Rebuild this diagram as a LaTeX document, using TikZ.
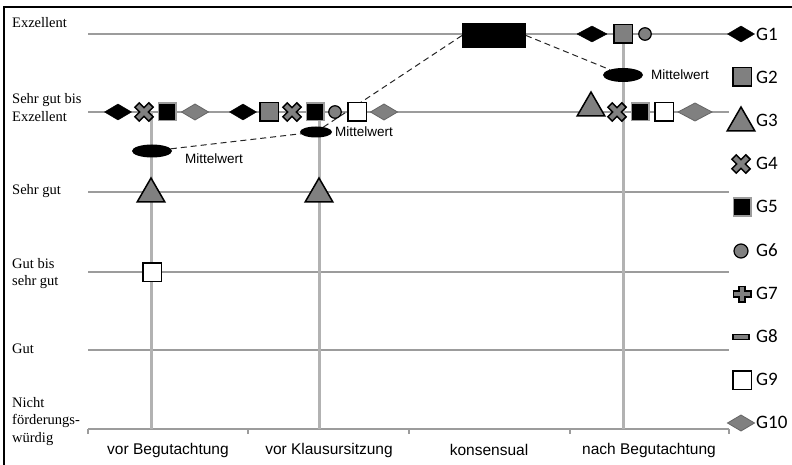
\documentclass[tikz,border=0pt]{standalone}
\usepackage{fontspec}
\setmainfont{Liberation Serif}
\setsansfont{Liberation Sans}
\newfontfamily\legfont{Carlito}
\newfontfamily\scalefont{Liberation Serif}
\usepackage{xcolor}
\usepackage{tikz}
\usetikzlibrary{shapes.geometric,positioning}

\definecolor{symgray}{HTML}{808080}
\definecolor{gridgray}{HTML}{9C9C9C}
\definecolor{stemgray}{HTML}{B2B2B2}

\tikzset{
  sym/.style={inner sep=0pt, outer sep=0pt},
  bdia/.style={sym, diamond, fill=black, draw=black, minimum width=27pt, minimum height=16pt},
  gdia/.style={sym, diamond, fill=symgray, draw=black!60, line width=0.8pt, minimum width=27pt, minimum height=16pt},
  gsq/.style={sym, rectangle, fill=symgray, draw=black, line width=1.5pt, minimum size=18.5pt},
  bsq/.style={sym, rectangle, fill=black, draw=gridgray, line width=1.5pt, minimum size=17.5pt},
  wsq/.style={sym, rectangle, fill=white, draw=black, line width=1.5pt, minimum size=18.5pt},
  gcirc/.style={sym, circle, fill=symgray, draw=black, line width=1.2pt, minimum size=12.5pt},
  gtri/.style={sym, regular polygon, regular polygon sides=3, fill=symgray, draw=black, line width=1.5pt, minimum size=32pt},
  gminus/.style={sym, rectangle, fill=symgray, draw=black, line width=1.2pt, minimum width=16pt, minimum height=5pt},
  mean/.style={sym, ellipse, fill=black, minimum width=40pt, minimum height=13pt},
  kbox/.style={sym, rectangle, fill=black, minimum width=64pt, minimum height=25pt},
  meanlabel/.style={font=\sffamily\fontsize{13.5}{15}\selectfont, inner sep=0pt},
  scalelabel/.style={font=\scalefont\fontsize{14.5}{17.5}\selectfont, anchor=base west, inner sep=0pt},
  catlabel/.style={font=\sffamily\fontsize{15.5}{18}\selectfont, inner sep=0pt},
  leglabel/.style={font=\legfont\fontsize{19}{22}\selectfont, anchor=west, inner sep=0pt},
  hline/.style={gridgray, line width=1.4pt},
  stem/.style={stemgray, line width=3pt},
  meanline/.style={black!85, line width=1pt, dash pattern=on 6pt off 4pt},
  gx/.pic={
    \draw[black, line width=7.5pt] (-7.5,-7.5) -- (7.5,7.5) (-7.5,7.5) -- (7.5,-7.5);
    \draw[symgray, line width=4.5pt] (-6.3,-6.3) -- (6.3,6.3) (-6.3,6.3) -- (6.3,-6.3);
  },
  gplus/.pic={
    \draw[black, line width=7.5pt] (-9.5,0) -- (9.5,0) (0,-8.5) -- (0,8.5);
    \draw[symgray, line width=4pt] (-8,0) -- (8,0) (0,-7) -- (0,7);
  }
}

\begin{document}
\begin{tikzpicture}[x=1pt,y=-1pt]
    \useasboundingbox (0,0) rectangle (792,465);
    % frame
    \draw[line width=1.3pt] (4,465) -- (4,7) -- (792,7);

    % grid and axis
    \foreach \y in {34,112,192,272,350}
        \draw[hline] (88,\y) -- (729,\y);
    \draw[hline] (88,429) -- (729,429);
    \foreach \x in {88,248,409,570,729}
        \draw[hline] (\x,429) -- (\x,434);
    \draw[stem] (151,112) -- (151,429);
    \draw[stem] (319,112) -- (319,429);
    \draw[stem] (623,34) -- (623,429);

    % left scale (one node per printed line)
    \foreach \y/\t [count=\i] in {28/Exzellent, 104/Sehr gut bis, 122/Exzellent, 195/Sehr gut,
        268/Gut bis, 285/sehr gut, 353/Gut, 407/Nicht, 424/förderungs-, 442/würdig}
        \node[scalelabel] (l\i) at (12,\y) {\t};

    % phases
    \foreach \x/\t [count=\i] in {168/vor Begutachtung, 329/vor Klausursitzung, 489/konsensual, 649/nach Begutachtung}
        \node[catlabel] (c\i) at (\x,450) {\t};

    % consensus and means
    \node[kbox] (kons) at (494,35.5) {};
    \node[mean] (m1) at (152,151) {};
    \node[mean, minimum width=32pt, minimum height=11pt] (m2) at (316,132) {};
    \node[mean, minimum height=14pt] (m3) at (623,75) {};
    \node[meanlabel, right=13pt of m1, yshift=-8pt] (m1l) {Mittelwert};
    \node[meanlabel, right=3pt of m2] (m2l) {Mittelwert};
    \node[meanlabel, right=8pt of m3] (m3l) {Mittelwert};

    \draw[meanline] (m1) -- (m2);
    \draw[meanline] (m2) -- (kons.west);
    \draw[meanline] (kons.east) -- (m3);

    % vor Begutachtung
    \node[bdia] (v1) at (118,112) {};
    \pic (v4) at (144,112) {gx};
    \node[bsq] (v5) at (167,112) {};
    \node[gdia] (v10) at (195,112) {};
    \node[gtri] (v3) at (151,194) {};
    \node[wsq] (v9) at (152,272) {};

    % vor Klausursitzung
    \node[bdia] (k1) at (243,112) {};
    \node[gsq] (k2) at (269,112) {};
    \pic (k4) at (292,112) {gx};
    \node[bsq] (k5) at (315,112) {};
    \node[gcirc] (k6) at (335,112) {};
    \node[wsq] (k9) at (357,112) {};
    \node[gdia] (k10) at (384,112) {};
    \node[gtri] (k3) at (319,194) {};

    % nach Begutachtung
    \node[bdia, minimum width=30pt] (n1) at (592,34) {};
    \node[gsq] (n2) at (623,34) {};
    \node[gcirc] (n6) at (645,34) {};
    \node[gtri] (n3) at (591,108) {};
    \pic (n4) at (617,112) {gx};
    \node[bsq] (n5) at (640,112) {};
    \node[wsq] (n9) at (664,112) {};
    \node[gdia, minimum width=34pt, minimum height=18pt] (n10) at (695,112) {};

    % legend
    \node[bdia] (g1) at (741,34) {};
    \node[gsq] (g2) at (742,77) {};
    \node[gtri] (g3) at (741,123) {};
    \pic (g4) at (741,164) {gx};
    \node[bsq] (g5) at (742,207) {};
    \node[gcirc, minimum size=14pt] (g6) at (741,251) {};
    \pic (g7) at (742,294) {gplus};
    \node[gminus] (g8) at (741,337) {};
    \node[wsq] (g9) at (742,380) {};
    \node[gdia] (g10) at (741,423) {};
    \foreach \i in {1,...,10}
        \node[leglabel] (t\i) at (756,{34+43.2*(\i-1)}) {G\i};
\end{tikzpicture}
\end{document}
